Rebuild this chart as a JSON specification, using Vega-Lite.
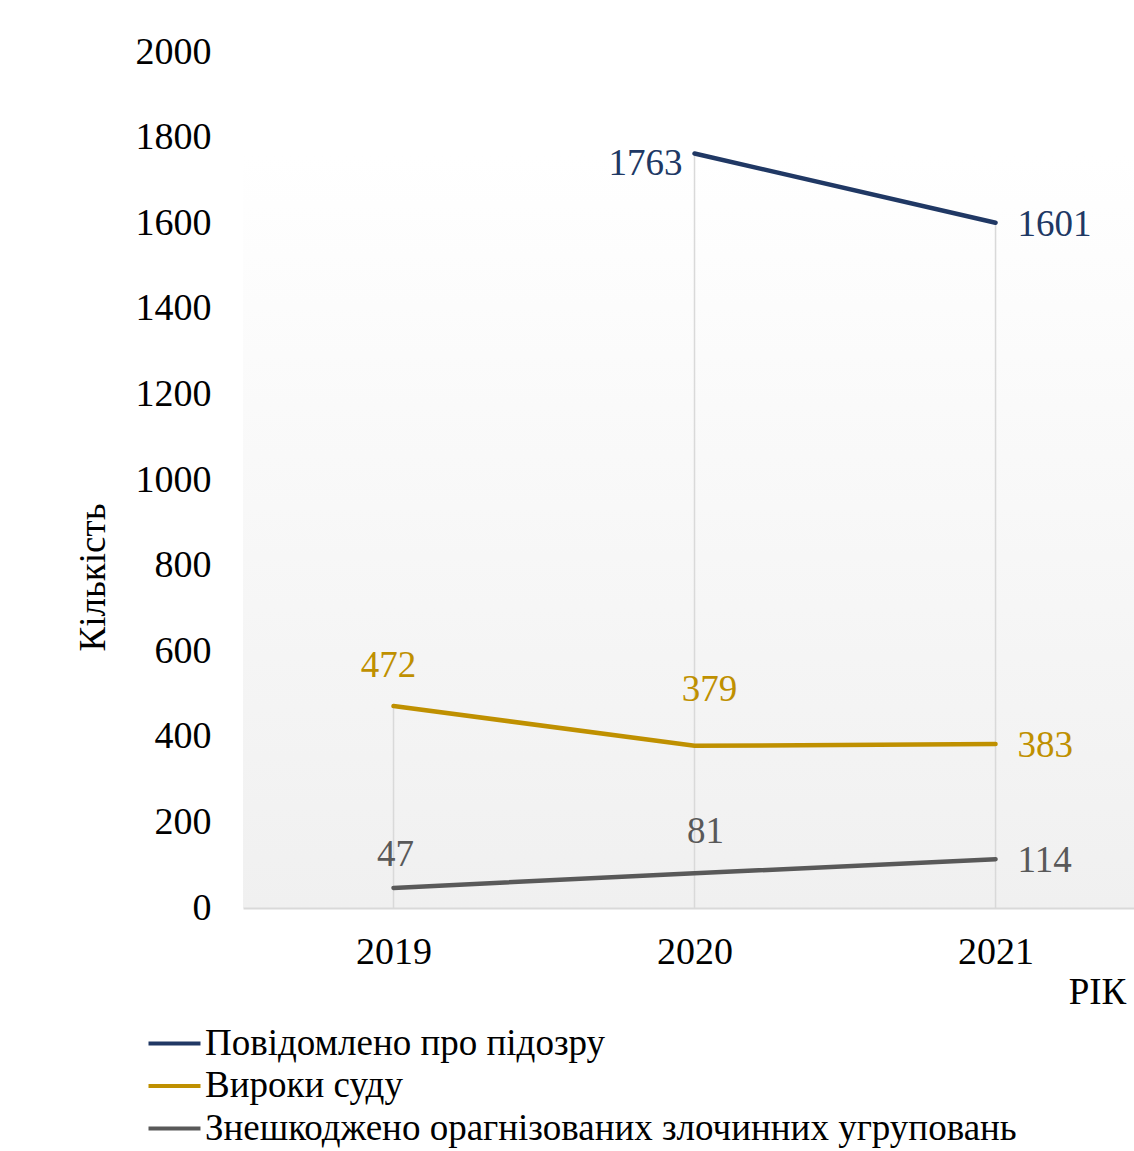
{
  "$schema": "https://vega.github.io/schema/vega-lite/v6.json",
  "autosize": {"type": "none"},
  "padding": {"left": 243, "top": 52, "right": 0, "bottom": 243},
  "width": 891,
  "height": 856,
  "background": "white",
  "config": {
    "font": "Liberation Serif",
    "view": {"stroke": null, "fill": {"gradient": "linear", "x1": 0, "y1": 0, "x2": 0, "y2": 1, "stops": [{"offset": 0, "color": "#ffffff"}, {"offset": 0.12, "color": "#ffffff"}, {"offset": 1, "color": "#f0f0f0"}]}}
  },
  "data": {"values": [
    {"year": 2020, "series": "Повідомлено про підозру", "value": 1763},
    {"year": 2021, "series": "Повідомлено про підозру", "value": 1601},
    {"year": 2019, "series": "Вироки суду", "value": 472},
    {"year": 2020, "series": "Вироки суду", "value": 379},
    {"year": 2021, "series": "Вироки суду", "value": 383},
    {"year": 2019, "series": "Знешкоджено орагнізованих злочинних угруповань", "value": 47},
    {"year": 2020, "series": "Знешкоджено орагнізованих злочинних угруповань", "value": 81},
    {"year": 2021, "series": "Знешкоджено орагнізованих злочинних угруповань", "value": 114}
  ]},
  "encoding": {
    "x": {"field": "year", "type": "quantitative", "scale": {"domain": [2018.5, 2021.46], "nice": false, "zero": false},
      "axis": {"values": [2019, 2020, 2021], "format": "d", "grid": false, "ticks": false, "domainColor": "#d9d9d9", "domainWidth": 2,
        "labelFontSize": 38, "labelColor": "#000000", "labelPadding": 25, "labelFont": "Liberation Serif",
        "title": "РІК", "titleFontSize": 37, "titleFontWeight": "normal", "titleColor": "#000000", "titleFont": "Liberation Serif",
        "titleX": 854, "titleY": 84, "titleAlign": "center", "titleBaseline": "middle"}},
    "y": {"field": "value", "type": "quantitative", "scale": {"domain": [0, 2000], "nice": false},
      "axis": {"values": [0, 200, 400, 600, 800, 1000, 1200, 1400, 1600, 1800, 2000], "format": "d", "grid": false, "ticks": false, "domain": false,
        "labelFontSize": 38, "labelColor": "#000000", "labelPadding": 32, "labelFont": "Liberation Serif",
        "title": "Кількість", "titleFontSize": 37, "titleFontWeight": "normal", "titleColor": "#000000", "titleFont": "Liberation Serif",
        "titleX": -150, "titleY": 525, "titleAngle": -90, "titleAlign": "center", "titleBaseline": "middle"}}
  },
  "layer": [
    {
      "transform": [{"aggregate": [{"op": "max", "field": "value", "as": "value"}], "groupby": ["year"]}],
      "mark": {"type": "rule", "color": "#d9d9d9", "strokeWidth": 1.5},
      "encoding": {"y2": {"datum": 0}}
    },
    {
      "mark": {"type": "line", "strokeWidth": 4.5, "strokeCap": "round"},
      "encoding": {
        "color": {"field": "series", "type": "nominal",
          "scale": {"domain": ["Повідомлено про підозру", "Вироки суду", "Знешкоджено орагнізованих злочинних угруповань"], "range": ["#203864", "#BF9000", "#595959"]},
          "legend": {"orient": "none", "legendX": -87, "legendY": 973, "title": null, "symbolType": "M-1.733,0H1.733", "symbolSize": 900, "symbolStrokeWidth": 4,
            "labelFontSize": 37, "labelFont": "Liberation Serif", "labelColor": "#000000", "labelOffset": 12, "rowPadding": 4.5, "labelLimit": 1000}}
      }
    },
    {
      "transform": [{"filter": "datum.value == 1763"}],
      "mark": {"type": "text", "align": "right", "baseline": "middle", "dx": -12, "dy": 11, "fontSize": 37, "font": "Liberation Serif"},
      "encoding": {"text": {"field": "value"}, "color": {"field": "series", "type": "nominal", "legend": null}}
    },
    {
      "transform": [{"filter": "datum.year == 2021"}],
      "mark": {"type": "text", "align": "left", "baseline": "middle", "dx": 22, "dy": 2, "fontSize": 37, "font": "Liberation Serif"},
      "encoding": {"text": {"field": "value"}, "color": {"field": "series", "type": "nominal", "legend": null}}
    },
    {
      "transform": [{"filter": "datum.value == 472"}],
      "mark": {"type": "text", "align": "center", "baseline": "middle", "dx": -5, "dy": -40, "fontSize": 37, "font": "Liberation Serif"},
      "encoding": {"text": {"field": "value"}, "color": {"field": "series", "type": "nominal", "legend": null}}
    },
    {
      "transform": [{"filter": "datum.value == 47"}],
      "mark": {"type": "text", "align": "center", "baseline": "middle", "dx": 2, "dy": -33, "fontSize": 37, "font": "Liberation Serif"},
      "encoding": {"text": {"field": "value"}, "color": {"field": "series", "type": "nominal", "legend": null}}
    },
    {
      "transform": [{"filter": "datum.value == 379"}],
      "mark": {"type": "text", "align": "center", "baseline": "middle", "dx": 15, "dy": -56, "fontSize": 37, "font": "Liberation Serif"},
      "encoding": {"text": {"field": "value"}, "color": {"field": "series", "type": "nominal", "legend": null}}
    },
    {
      "transform": [{"filter": "datum.value == 81"}],
      "mark": {"type": "text", "align": "center", "baseline": "middle", "dx": 11, "dy": -41, "fontSize": 37, "font": "Liberation Serif"},
      "encoding": {"text": {"field": "value"}, "color": {"field": "series", "type": "nominal", "legend": null}}
    }
  ]
}
